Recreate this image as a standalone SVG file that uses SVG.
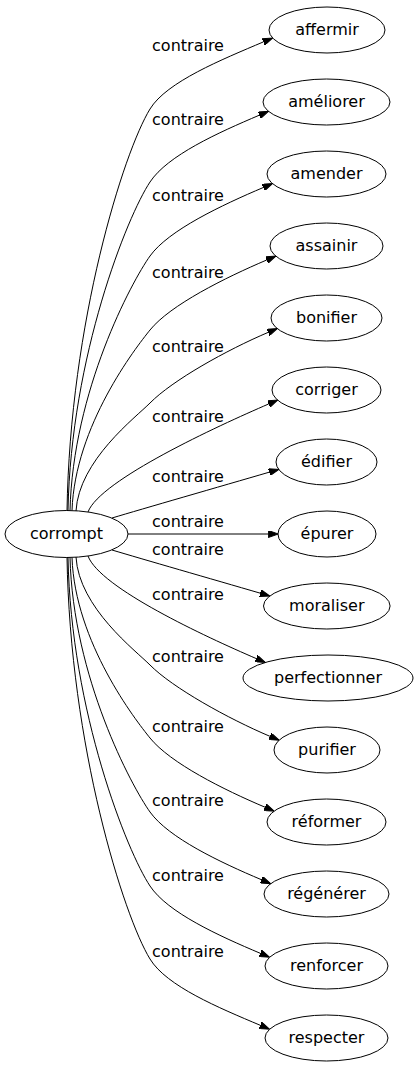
<svg xmlns="http://www.w3.org/2000/svg" width="416" height="1067" viewBox="0 0 416 1067">
<style>
.n ellipse{fill:none;stroke:#000;stroke-width:1}
.n text{font-family:"DejaVu Sans",sans-serif;font-size:16px;fill:#000;text-anchor:middle}
.e path{fill:none;stroke:#000;stroke-width:1}
.e text{font-family:"DejaVu Sans",sans-serif;font-size:16px;fill:#000;text-anchor:middle}
</style>
<defs>
<marker id="ah" viewBox="0 0 10 7" refX="0" refY="3.5" markerWidth="10" markerHeight="7" markerUnits="userSpaceOnUse" orient="auto">
<path d="M0,0 L10,3.5 L0,7 z" fill="#000" stroke="#000" stroke-width="1"/>
</marker>
</defs>
<rect width="416" height="1067" fill="#fff"/>
<g id="edges" class="e">
<path marker-end="url(#ah)" d="M67,511 C70,322 123.8,151.7 150,109 C166.6,81.8 222,59.5 263.4,41.9"/>
<path marker-end="url(#ah)" d="M68,510.5 C71,356.1 127.4,216 150,182 C167.6,155.4 217.9,132.8 259.3,115.2"/>
<path marker-end="url(#ah)" d="M70,510.5 C73,390.9 131.6,281.8 150,256 C168.6,230.1 221.9,205.1 263.3,187.5"/>
<path marker-end="url(#ah)" d="M72,510.5 C75,425.7 135.8,347.6 150,330 C170.2,305 225.3,277.6 266.7,260"/>
<path marker-end="url(#ah)" d="M76,511 C79,460.2 136,417.2 150,403 C172.4,380.3 226.7,350 268.1,332.4"/>
<path marker-end="url(#ah)" d="M88,512 C100,480 218.1,425.8 268.6,404"/>
<path marker-end="url(#ah)" d="M112,518 C142,509 221.2,486.2 269.2,472.2"/>
<path marker-end="url(#ah)" d="M128,534 L268.3,534"/>
<path marker-end="url(#ah)" d="M112,550 C142,559 212.3,579.2 260.3,593.2"/>
<path marker-end="url(#ah)" d="M88,556 C100,588 205.6,636.7 256.1,658.5"/>
<path marker-end="url(#ah)" d="M76,557 C79,607.8 136,650.8 150,665 C172.4,687.7 228.5,718.8 269.9,736.3"/>
<path marker-end="url(#ah)" d="M72,557.5 C75,642.3 135.8,720.4 150,738 C170.2,763 223.6,789.7 265,807.2"/>
<path marker-end="url(#ah)" d="M70,557.5 C73,677.1 131.6,786.2 150,812 C168.6,837.9 220,862.2 261.4,879.7"/>
<path marker-end="url(#ah)" d="M68,557.5 C71,711.9 127.4,852 150,886 C167.6,912.6 218.9,935.8 260.3,953.3"/>
<path marker-end="url(#ah)" d="M67,557 C70,746 123.8,916.3 150,959 C166.6,986.2 218.9,1007.8 260.3,1025.3"/>
<text x="188" y="51">contraire</text>
<text x="188" y="125">contraire</text>
<text x="188" y="201">contraire</text>
<text x="188" y="278">contraire</text>
<text x="188" y="352">contraire</text>
<text x="188" y="422">contraire</text>
<text x="188" y="482">contraire</text>
<text x="188" y="527">contraire</text>
<text x="188" y="555">contraire</text>
<text x="188" y="600">contraire</text>
<text x="188" y="662">contraire</text>
<text x="188" y="732">contraire</text>
<text x="188" y="806">contraire</text>
<text x="188" y="881">contraire</text>
<text x="188" y="957">contraire</text>
</g>
<g id="corrompt" class="n"><ellipse cx="66.5" cy="534" rx="61.5" ry="23.5"/><text x="66.5" y="539">corrompt</text></g>
<g id="affermir" class="n"><ellipse cx="327" cy="30" rx="58" ry="23"/><text x="327" y="35">affermir</text></g>
<g id="ameliorer" class="n"><ellipse cx="326.5" cy="102" rx="63.5" ry="23"/><text x="326.5" y="107">améliorer</text></g>
<g id="amender" class="n"><ellipse cx="326.5" cy="174" rx="59.5" ry="23"/><text x="326.5" y="179">amender</text></g>
<g id="assainir" class="n"><ellipse cx="326.5" cy="246" rx="56.5" ry="23"/><text x="326.5" y="251">assainir</text></g>
<g id="bonifier" class="n"><ellipse cx="326.5" cy="318" rx="55.5" ry="23"/><text x="326.5" y="323">bonifier</text></g>
<g id="corriger" class="n"><ellipse cx="326.5" cy="390" rx="54.5" ry="23"/><text x="326.5" y="395">corriger</text></g>
<g id="edifier" class="n"><ellipse cx="326.5" cy="462" rx="50.5" ry="23"/><text x="326.5" y="467">édifier</text></g>
<g id="epurer" class="n"><ellipse cx="327" cy="534" rx="49" ry="23"/><text x="327" y="539">épurer</text></g>
<g id="moraliser" class="n"><ellipse cx="326.8" cy="606" rx="63.3" ry="23"/><text x="326.8" y="611">moraliser</text></g>
<g id="perfectionner" class="n"><ellipse cx="328" cy="678" rx="85" ry="23"/><text x="328" y="683">perfectionner</text></g>
<g id="purifier" class="n"><ellipse cx="327" cy="750" rx="53" ry="23"/><text x="327" y="755">purifier</text></g>
<g id="reformer" class="n"><ellipse cx="326.5" cy="822" rx="59.5" ry="23"/><text x="326.5" y="827">réformer</text></g>
<g id="regenerer" class="n"><ellipse cx="326.5" cy="894" rx="62.5" ry="23"/><text x="326.5" y="899">régénérer</text></g>
<g id="renforcer" class="n"><ellipse cx="326.5" cy="966" rx="61.5" ry="23"/><text x="326.5" y="971">renforcer</text></g>
<g id="respecter" class="n"><ellipse cx="326.5" cy="1038" rx="61.5" ry="23"/><text x="326.5" y="1043">respecter</text></g>
</svg>
